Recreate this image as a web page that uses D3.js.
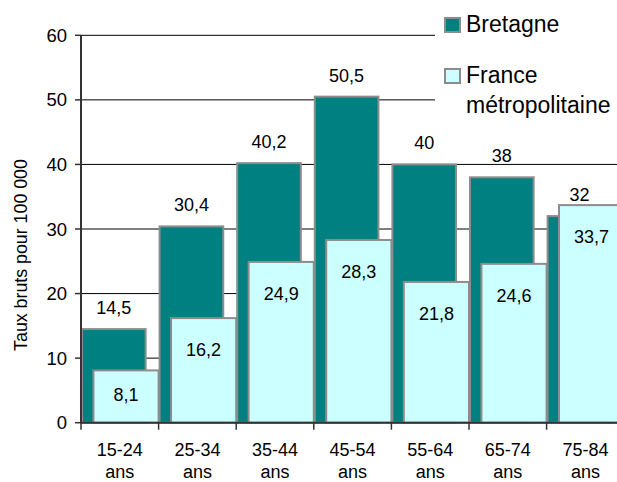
<!DOCTYPE html>
<html>
<head>
<meta charset="utf-8">
<script src="https://cdn.jsdelivr.net/npm/d3@7"></script>
<style>
  body { margin: 0; background: #fff; }
  svg text { font-family: "Liberation Sans", Arial, sans-serif; fill: #000; }
</style>
</head>
<body>
<svg id="chart" width="617" height="482"></svg>
<script>
// age groups, two lines each
var categories = ["15-24 ans", "25-34 ans", "35-44 ans", "45-54 ans", "55-64 ans", "65-74 ans", "75-84 ans"];
var bretagne = [14.5, 30.4, 40.2, 50.5, 40, 38, 32];
var france = [8.1, 16.2, 24.9, 28.3, 21.8, 24.6, 33.7];
var yTicks = [0, 10, 20, 30, 40, 50, 60];
var seriesNames = ["Bretagne", "France métropolitaine"];

var teal = "#008080", cyan = "#ccffff", edge = "#8c8c8c";

var svg = d3.select("#chart");

var x = d3.scaleBand().domain(categories).range([81, 624.2]).padding(0);
var y = d3.scaleLinear().domain([0, 60]).range([422.7, 35.3]);
var bw = x.bandwidth();

function fmt(v) { return String(v).replace(".", ","); }

// gridlines
svg.append("g").selectAll("line")
    .data(yTicks.filter(function (t) { return t > 0; }))
    .enter().append("line")
    .attr("x1", 81).attr("x2", 624)
    .attr("y1", function (d) { return y(d); })
    .attr("y2", function (d) { return y(d); })
    .attr("stroke", "#000").attr("stroke-width", 1);

// Bretagne bars (behind)
svg.append("g").selectAll("rect")
    .data(bretagne)
    .enter().append("rect")
    .attr("x", function (d, i) { return x(categories[i]) + 1; })
    .attr("width", bw * 0.82)
    .attr("y", function (d) { return y(d); })
    .attr("height", function (d) { return y(0) - y(d); })
    .attr("fill", teal).attr("stroke", edge).attr("stroke-width", 2);

// France bars (front)
svg.append("g").selectAll("rect")
    .data(france)
    .enter().append("rect")
    .attr("x", function (d, i) { return x(categories[i]) + bw * 0.16; })
    .attr("width", bw * 0.84)
    .attr("y", function (d) { return y(d); })
    .attr("height", function (d) { return y(0) - y(d); })
    .attr("fill", cyan).attr("stroke", edge).attr("stroke-width", 2);

// Bretagne labels above bars
svg.append("g").selectAll("text")
    .data(bretagne)
    .enter().append("text")
    .attr("x", function (d, i) { return x(categories[i]) + 1 + bw * 0.41; })
    .attr("y", function (d) { return y(d) - 15; })
    .attr("text-anchor", "middle")
    .style("font-size", "18px")
    .text(fmt);

// France labels inside bars
svg.append("g").selectAll("text")
    .data(france)
    .enter().append("text")
    .attr("x", function (d, i) { return x(categories[i]) + bw * 0.58; })
    .attr("y", function (d) { return Math.min(y(d) + 38, (y(d) + y(0)) / 2 + 4); })
    .attr("text-anchor", "middle")
    .style("font-size", "18px")
    .text(fmt);

// y axis
var yAxis = svg.append("g");
yAxis.append("line")
    .attr("x1", 81).attr("x2", 81).attr("y1", y(60)).attr("y2", y(0))
    .attr("stroke", "#333").attr("stroke-width", 2);
yAxis.selectAll("line.tick")
    .data(yTicks)
    .enter().append("line").attr("class", "tick")
    .attr("x1", 75).attr("x2", 81)
    .attr("y1", function (d) { return y(d); })
    .attr("y2", function (d) { return y(d); })
    .attr("stroke", "#333").attr("stroke-width", 1.5);
yAxis.selectAll("text")
    .data(yTicks)
    .enter().append("text")
    .attr("x", 67)
    .attr("y", function (d) { return y(d) + 6.5; })
    .attr("text-anchor", "end")
    .style("font-size", "18.5px")
    .text(function (d) { return d; });

svg.append("text")
    .attr("transform", "translate(27,255) rotate(-90)")
    .attr("text-anchor", "middle")
    .style("font-size", "17.8px")
    .text("Taux bruts pour 100 000");

// x axis
var xAxis = svg.append("g");
xAxis.append("line")
    .attr("x1", 80).attr("x2", 624).attr("y1", y(0)).attr("y2", y(0))
    .attr("stroke", "#333").attr("stroke-width", 2);
xAxis.selectAll("line.tick")
    .data(categories.concat(["end"]))
    .enter().append("line").attr("class", "tick")
    .attr("x1", function (d, i) { return 81 + i * bw; })
    .attr("x2", function (d, i) { return 81 + i * bw; })
    .attr("y1", y(0)).attr("y2", y(0) + 7)
    .attr("stroke", "#333").attr("stroke-width", 1.5);
var xl = xAxis.selectAll("text")
    .data(categories)
    .enter().append("text")
    .attr("text-anchor", "middle")
    .style("font-size", "18px");
xl.each(function (d) {
    var parts = d.split(" ");
    var t = d3.select(this);
    parts.forEach(function (p, k) {
        t.append("tspan")
            .attr("x", x(d) + bw / 2)
            .attr("y", 455.5 + k * 22.5)
            .text(p);
    });
});

// legend
var legend = svg.append("g");
legend.append("rect")
    .attr("x", 435).attr("y", 0).attr("width", 182).attr("height", 135)
    .attr("fill", "#fff");
var legendY = [18, 69];
[teal, cyan].forEach(function (c, i) {
    legend.append("rect")
        .attr("x", 445).attr("y", legendY[i]).attr("width", 15).attr("height", 14)
        .attr("fill", c).attr("stroke", edge).attr("stroke-width", 2);
});
legend.append("text")
    .attr("x", 466).attr("y", 32)
    .style("font-size", "23px")
    .text(seriesNames[0]);
var ft = legend.append("text").style("font-size", "23px");
ft.append("tspan").attr("x", 466).attr("y", 83).text("France");
ft.append("tspan").attr("x", 466).attr("y", 113).text("métropolitaine");
</script>
</body>
</html>
